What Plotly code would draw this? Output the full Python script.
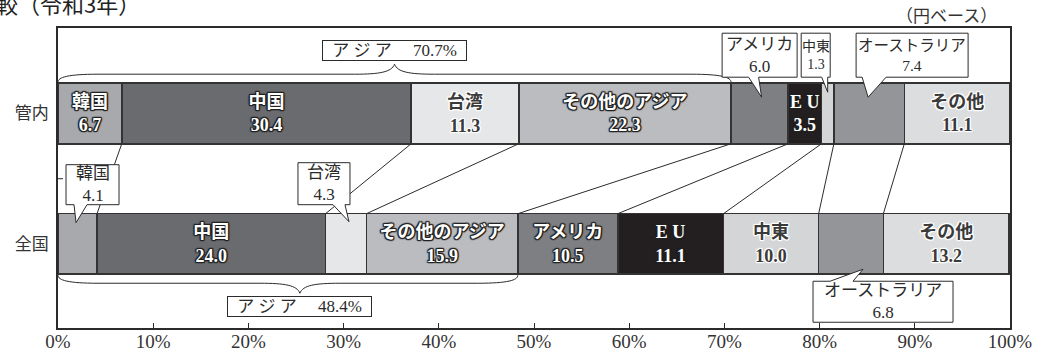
import numpy as np
import plotly.graph_objects as go

# ---------------- data ----------------
rows = ["全国", "管内"]  # bottom -> top
regions = ["韓国", "中国", "台湾", "その他のアジア", "アメリカ", "EU", "中東", "オーストラリア", "その他"]
region_labels = ["韓国", "中国", "台湾", "その他のアジア", "アメリカ", "E U", "中東", "オーストラリア", "その他"]
kannai = [6.7, 30.4, 11.3, 22.3, 6.0, 3.5, 1.3, 7.4, 11.1]
zenkoku = [4.1, 24.0, 4.3, 15.9, 10.5, 11.1, 10.0, 6.8, 13.2]
asia_regions = ["韓国", "中国", "台湾", "その他のアジア"]
asia_share = {"管内": 70.7, "全国": 48.4}
callout_regions = {"管内": ["アメリカ", "中東", "オーストラリア"],
                   "全国": ["韓国", "台湾", "オーストラリア"]}
x_tickvals = list(range(0, 101, 10))
x_ticktext = [f"{v}%" for v in x_tickvals]
title_fragment = "較（令和3年）"
unit_note = "（円ベース）"

# ---------------- style ----------------
colors = ["#a8a9ac", "#6a6b6f", "#e6e7e8", "#bbbcbf", "#7e7f83",
          "#231f20", "#d4d5d7", "#939598", "#dcdddf"]
dark_text = {"台湾", "中東", "その他"}
SERIF = "'Liberation Serif', 'Noto Sans CJK JP', serif"
JP = "'Noto Sans CJK JP', sans-serif"
INK = "#2b2b2b"

W, H = 1040, 353
ML, MR, MT, MB = 58, 30, 28, 25
PW, PH = W - ML - MR, H - MT - MB
X_RANGE = [0, 100]
Y_RANGE = [-0.644, 1.655]
BW = 0.464


def dx(p):
    return p * (X_RANGE[1] - X_RANGE[0]) / PW


def dy(p):
    return p * (Y_RANGE[1] - Y_RANGE[0]) / PH


vals = {"管内": kannai, "全国": zenkoku}
ypos = {r: i for i, r in enumerate(rows)}
cum = {r: np.cumsum(vals[r]) for r in rows}


def outline(c):
    o = ["-1px -1px 1px c", "1px -1px 1px c", "-1px 1px 1px c", "1px 1px 1px c",
         "0 1px 1px c", "0 -1px 1px c", "1px 0 1px c", "-1px 0 1px c"]
    return ", ".join(s.replace(" c", " " + c) for s in o)


fig = go.Figure()
for j, reg in enumerate(regions):
    texts = []
    for r in rows:
        if reg in callout_regions[r]:
            texts.append("")
        else:
            texts.append(f"{region_labels[j]}<br>{vals[r][j]:.1f}")
    dark = reg in dark_text
    fig.add_trace(go.Bar(
        y=[ypos[r] for r in rows], x=[vals[r][j] for r in rows],
        orientation="h", width=BW, name=reg,
        marker=dict(color=colors[j], line=dict(color="#333333", width=1.5)),
        text=texts, textposition="inside", insidetextanchor="middle",
        textangle=0, constraintext="none",
        textfont=dict(family=SERIF, size=18, weight="bold",
                      color="#3a3a3a" if dark else "#ffffff",
                      shadow=outline("#ffffff" if dark else "#222222")),
        hoverinfo="skip", showlegend=False,
    ))

shapes = []
annotations = []

# y-axis boundary tick
shapes.append(dict(type="line", xref="x", yref="y", x0=0, x1=dx(5), y0=0.5, y1=0.5,
                   line=dict(color=INK, width=1)))

# connector lines between the two bars
for i in range(len(regions) - 1):
    shapes.append(dict(type="line", xref="x", yref="y", layer="above",
                       x0=cum["管内"][i], y0=ypos["管内"] - BW / 2,
                       x1=cum["全国"][i], y1=ypos["全国"] + BW / 2,
                       line=dict(color=INK, width=1)))


# braces for the Asia share
def brace(row, side, tip_shift_px=0):
    n = len(asia_regions)
    x0, x1 = 0, cum[row][n - 1]
    xm = x1 / 2 + dx(tip_shift_px)
    s = 1 if side == "above" else -1
    edge = ypos[row] + s * BW / 2
    ye = edge + s * dy(1)
    yf = edge + s * dy(9)
    yt = edge + s * dy(19)
    p = (f"M {x0},{ye} C {x0},{edge + s*dy(6)} {x0 + dx(10)},{yf} {x0 + dx(40)},{yf} "
         f"L {xm - dx(40)},{yf} C {xm - dx(15)},{yf} {xm - dx(3)},{yf + s*dy(2)} {xm},{yt} "
         f"C {xm + dx(3)},{yf + s*dy(2)} {xm + dx(15)},{yf} {xm + dx(40)},{yf} "
         f"L {x1 - dx(40)},{yf} C {x1 - dx(10)},{yf} {x1},{edge + s*dy(6)} {x1},{ye}")
    shapes.append(dict(type="path", xref="x", yref="y", path=p, layer="above",
                       line=dict(color=INK, width=1), fillcolor="rgba(0,0,0,0)"))
    pct = asia_share[row]
    annotations.append(dict(
        xref="x", yref="y", x=xm, y=yt + s * dy(3),
        xanchor="center", yanchor="bottom" if s > 0 else "top",
        text=f"ア ジ ア　 {pct:.1f}%", showarrow=False,
        font=dict(family=SERIF, size=17, color=INK),
        width=141, height=17, borderpad=1, borderwidth=1, bordercolor=INK,
        bgcolor="#ffffff"))


brace("管内", "above")
brace("全国", "below", tip_shift_px=12)

# callout boxes (layout offsets in pixels)
callout_layout = {
    ("管内", "アメリカ"): dict(side="above", box_dx=0, box_w=75, gap=6, box_h=44,
                            tip_dx=2, tip_in=14, base=(-13, -3), fs=17),
    ("管内", "中東"): dict(side="above", box_dx=-12, box_w=29, gap=6, box_h=44,
                          tip_dx=0, tip_in=9, base=(-6, 0), fs=14),
    ("管内", "オーストラリア"): dict(side="above", box_dx=43, box_w=112, gap=6, box_h=44,
                               tip_dx=-1, tip_in=14, base=(-6, 18), fs=15.5),
    ("全国", "韓国"): dict(side="above", box_dx=15, box_w=53, gap=9, box_h=40,
                          tip_dx=-1.5, tip_in=9, base=(-2, 11), fs=17),
    ("全国", "台湾"): dict(side="above", box_dx=-22, box_w=52, gap=9, box_h=42,
                          tip_dx=3, tip_in=8, base=(-16, -4), fs=17),
    ("全国", "オーストラリア"): dict(side="below", box_dx=32, box_w=140, gap=7, box_h=41,
                               tip_dx=12, tip_in=5, base=(-33, -10), fs=17),
}

for r in rows:
    for reg in callout_regions[r]:
        j = regions.index(reg)
        L = callout_layout[(r, reg)]
        center = cum[r][j] - vals[r][j] / 2
        tip_x = center + dx(L["tip_dx"])
        bcx = center + dx(L["box_dx"])
        left, right = bcx - dx(L["box_w"] / 2), bcx + dx(L["box_w"] / 2)
        bl, br = tip_x + dx(L["base"][0]), tip_x + dx(L["base"][1])
        if L["side"] == "above":
            edge = ypos[r] + BW / 2
            tip_y = edge - dy(L["tip_in"])
            bb = edge + dy(L["gap"])
            bt = bb + dy(L["box_h"])
            p = (f"M {left},{bt} L {right},{bt} L {right},{bb} L {br},{bb} "
                 f"L {tip_x},{tip_y} L {bl},{bb} L {left},{bb} Z")
        else:
            edge = ypos[r] - BW / 2
            tip_y = edge + dy(L["tip_in"])
            bt = edge - dy(L["gap"])
            bb = bt - dy(L["box_h"])
            p = (f"M {left},{bb} L {left},{bt} L {bl},{bt} L {tip_x},{tip_y} "
                 f"L {br},{bt} L {right},{bt} L {right},{bb} Z")
        shapes.append(dict(type="path", xref="x", yref="y", path=p, layer="above",
                           line=dict(color=INK, width=1), fillcolor="#ffffff"))
        annotations.append(dict(
            xref="x", yref="y", x=bcx, y=(bt + bb) / 2, xanchor="center", yanchor="middle",
            text=f"{region_labels[j]}<br>{vals[r][j]:.1f}", showarrow=False,
            font=dict(family=SERIF, size=L["fs"], color=INK)))

# page texts
annotations.append(dict(xref="paper", yref="paper", x=-6 / PW - ML / PW, y=1 + (MT - 3) / PH,
                        xanchor="left", yanchor="middle", text=title_fragment, showarrow=False,
                        font=dict(family=JP, size=22, color="#222222")))
annotations.append(dict(xref="paper", yref="paper", x=(999 - ML) / PW, y=1 + (MT - 15) / PH,
                        xanchor="right", yanchor="middle", text=unit_note, showarrow=False,
                        font=dict(family=JP, size=17, color="#333333")))

fig.update_layout(
    width=W, height=H, barmode="stack",
    margin=dict(l=ML, r=MR, t=MT, b=MB, pad=0, autoexpand=False),
    paper_bgcolor="#ffffff", plot_bgcolor="#ffffff",
    shapes=shapes, annotations=annotations, showlegend=False,
    xaxis=dict(range=X_RANGE, tickvals=x_tickvals, ticktext=x_ticktext, automargin=False,
               ticks="inside", ticklen=5, tickwidth=1, tickcolor=INK, ticklabelstandoff=-5,
               showline=True, mirror=True, linecolor=INK, linewidth=1.5,
               showgrid=False, zeroline=False, fixedrange=True,
               tickfont=dict(family=SERIF, size=19, color="#333333")),
    yaxis=dict(range=Y_RANGE, tickvals=[ypos[r] for r in rows], ticktext=rows, automargin=False,
               ticks="", ticklabelstandoff=4,
               showline=True, mirror=True, linecolor=INK, linewidth=1.5,
               showgrid=False, zeroline=False, fixedrange=True,
               tickfont=dict(family=JP, size=17, color="#333333")),
)

fig.write_html("out.html")
